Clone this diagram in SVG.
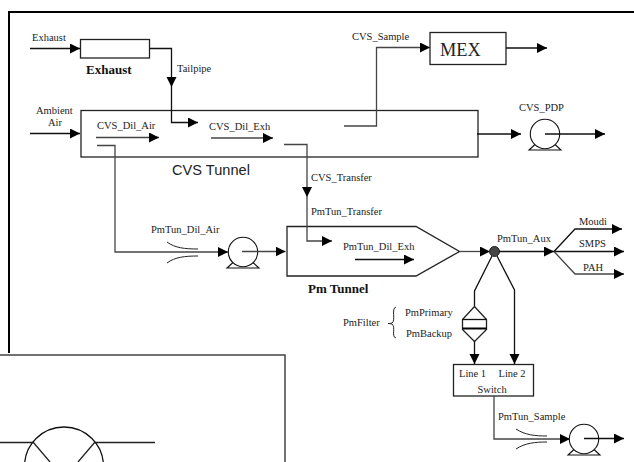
<svg xmlns="http://www.w3.org/2000/svg" width="634" height="462" viewBox="0 0 634 462">
<style>
text{font-family:"Liberation Serif","Times New Roman",serif;font-size:10.5px;fill:#222}
.b{font-weight:bold;font-size:13px;fill:#111}
.s{fill:none;stroke:#111;stroke-width:1.3}
.g{fill:none;stroke:#444;stroke-width:1.3}
.t{fill:none;stroke:#222;stroke-width:1}
.box{fill:#fff;stroke:#222;stroke-width:1.3}
</style>
<defs>
<marker id="a" markerUnits="userSpaceOnUse" markerWidth="11" markerHeight="11" refX="10" refY="5" orient="auto"><path d="M0 0L10 5L0 10Z" fill="#000"/></marker>
<g id="pump"><circle cx="0" cy="0" r="14.7" fill="#fff" stroke="#111" stroke-width="1.1"/><path d="M-10 10.500L-16 16H16L10 10.500" fill="none" stroke="#111" stroke-width="1.1"/></g>
</defs>
<path d="M9 353V12H634" fill="none" stroke="#000" stroke-width="2"/>
<g id="node-exhaust"><rect class="box" x="80.500" y="39.500" width="69" height="18.500"/><text class="b" x="86" y="73.500">Exhaust</text></g>
<g id="node-cvs"><rect class="box" x="81" y="110.500" width="397" height="46.500"/><text x="172" y="175" style="font-family:'Liberation Sans',Arial,sans-serif;font-size:14.600px">CVS Tunnel</text></g>
<g id="node-mex"><rect class="box" x="430" y="32.500" width="76" height="32"/><text x="440" y="56" style="font-size:18.300px">MEX</text></g>
<g id="node-pm"><path class="box" d="M287 226.500H416L459.500 251.500L416 276H287Z"/><text class="b" x="308" y="293">Pm Tunnel</text></g>
<g id="node-switch"><rect class="box" x="453.500" y="364.500" width="80" height="31.500"/><text x="459" y="376.500">Line 1</text><text x="498.500" y="376.500">Line 2</text><text x="477.500" y="392.500">Switch</text></g>
<g id="node-filter"><path class="box" d="M474.500 306.500L462.500 319.500V329.500L474.500 341.500L486.500 329.500V319.500Z"/><path d="M462.500 319.500H486.500" class="s"/><path d="M462.500 328.500H486.500" stroke="#000" stroke-width="2"/></g>
<g id="node-junction"><circle cx="494.500" cy="251.500" r="5" fill="#444" stroke="#222"/></g>
<g id="connectors">
<path class="s" d="M30 48.500H80" marker-end="url(#a)"/>
<path class="s" d="M150 48.500H171.500V87" marker-end="url(#a)"/>
<path class="s" d="M171.500 87V122.500H198" marker-end="url(#a)"/>
<path class="s" d="M30 133.500H80" marker-end="url(#a)"/>
<path class="g" d="M96 137.500H159" marker-end="url(#a)"/>
<path class="g" d="M211 138H273" marker-end="url(#a)"/>
<path class="g" d="M97 145.500H115V252H228" marker-end="url(#a)"/>
<path class="g" d="M284 144.500H307V197" marker-end="url(#a)"/>
<path class="g" d="M307 197V241H332" marker-end="url(#a)"/>
<path class="g" d="M344 126H376.500V47.500H430" marker-end="url(#a)"/>
<path class="s" d="M506 48H547" marker-end="url(#a)"/>
<path class="s" d="M477 134H521" marker-end="url(#a)"/>
<path class="s" d="M355 259.500H414" marker-end="url(#a)"/>
<path class="g" d="M459.500 251.500H490" marker-end="url(#a)"/>
<path class="s" d="M499 251.500H554" marker-end="url(#a)"/>
<path class="s" d="M554 251.500L575 229H622" marker-end="url(#a)"/>
<path class="s" d="M554 251.500H624" marker-end="url(#a)"/>
<path class="g" d="M554 251.500L575 274H624" marker-end="url(#a)"/>
<path class="s" d="M492 256L474.500 291V306"/>
<path class="s" d="M474.500 341V364" marker-end="url(#a)"/>
<path class="s" d="M497 256L514.500 290V364" marker-end="url(#a)"/>
<path class="g" d="M494 396V439H570" marker-end="url(#a)"/>
<path class="t" d="M167 242C175 248 185 249 198 249"/>
<path class="t" d="M167 263C175 257 185 256 198 256"/>
<path class="t" d="M516 429C525 435 535 436 547 436"/>
<path class="t" d="M516 449C525 443 535 442 547 442"/>
<path class="t" d="M396 307C391 308 396 321 392 323C390 323.500 390 323.500 388 323.500C390 323.500 391 324 392 324C396 327 391 337 396 338"/>
</g>
<g id="node-pump1"><use href="#pump" x="545" y="134"/><path class="s" d="M545 134H605" marker-end="url(#a)"/></g>
<g id="node-pump2"><use href="#pump" x="243" y="252"/><path class="g" d="M242 251.500H285.500" marker-end="url(#a)"/></g>
<g id="node-pump3"><use href="#pump" x="584" y="439"/><path class="s" d="M584 438.500H624" marker-end="url(#a)"/></g>
<g id="labels">
<text x="32" y="41">Exhaust</text>
<text x="177" y="72">Tailpipe</text>
<text x="36" y="114">Ambient</text>
<text x="48" y="126">Air</text>
<text x="97" y="129">CVS_Dil_Air</text>
<text x="209" y="130">CVS_Dil_Exh</text>
<text x="352" y="40">CVS_Sample</text>
<text x="519" y="111">CVS_PDP</text>
<text x="311" y="181">CVS_Transfer</text>
<text x="311" y="215">PmTun_Transfer</text>
<text x="151" y="233">PmTun_Dil_Air</text>
<text x="343" y="250">PmTun_Dil_Exh</text>
<text x="497" y="242">PmTun_Aux</text>
<text x="579" y="225">Moudi</text>
<text x="579" y="247">SMPS</text>
<text x="583" y="271">PAH</text>
<text x="343" y="326">PmFilter</text>
<text x="405" y="316">PmPrimary</text>
<text x="406" y="337">PmBackup</text>
<text x="498" y="420">PmTun_Sample</text>
</g>
<g id="node-inset">
<path d="M0 355H285V462" fill="#fff" stroke="#444" stroke-width="1.500"/>
<path d="M0 442.500H33M95 442.500H155M33 442L50 462M95 442L78 462" fill="none" stroke="#222" stroke-width="1.300"/>
<circle cx="64" cy="466.500" r="39.500" fill="none" stroke="#111" stroke-width="1.300"/>
</g>
</svg>
